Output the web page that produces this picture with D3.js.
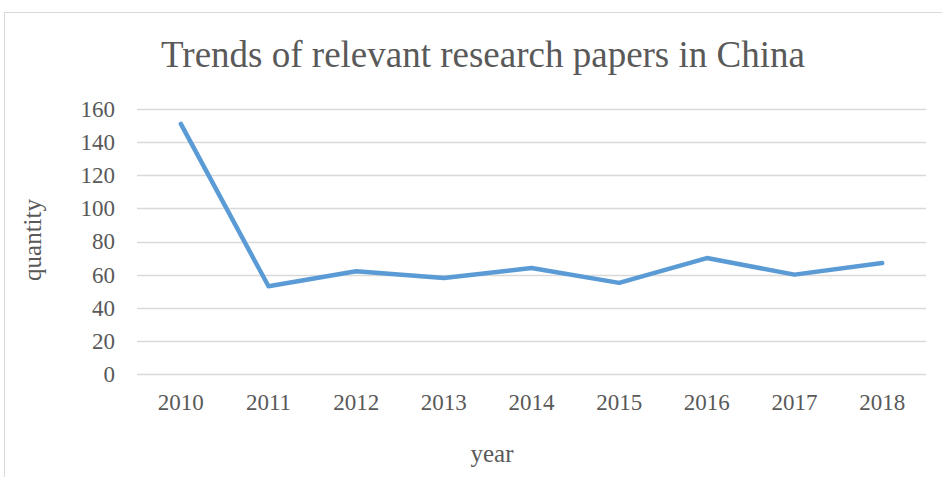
<!DOCTYPE html>
<html>
<head>
<meta charset="utf-8">
<script src="https://cdn.jsdelivr.net/npm/d3@7"></script>
<style>
  body { margin: 0; background: #fff; }
  text { font-family: "Liberation Serif", "Times New Roman", serif; fill: #595959; }
</style>
</head>
<body>
<div id="chart"></div>
<script>
'use strict';

// Data
const years = ['2010', '2011', '2012', '2013', '2014', '2015', '2016', '2017', '2018'];
const quantity = [151, 53, 62, 58, 64, 55, 70, 60, 67];
const yTicks = [0, 20, 40, 60, 80, 100, 120, 140, 160];

// Config
const svgW = 942;
const svgH = 477;
const plot = {left: 137, right: 926, top: 109, bottom: 374};

const svg = d3.select('#chart')
    .append('svg')
    .attr('width', svgW)
    .attr('height', svgH);

// Chart area border
svg.append('rect')
    .attr('x', 4.5)
    .attr('y', 12.5)
    .attr('width', 960)
    .attr('height', 500)
    .attr('fill', 'none')
    .attr('stroke', '#d9d9d9');

// Scales
const x = d3.scaleBand().domain(years).range([plot.left, plot.right]);
const y = d3.scaleLinear().domain([0, 160]).range([plot.bottom, plot.top]);

// Gridlines
svg.append('g')
    .selectAll('line')
    .data(yTicks)
    .join('line')
    .attr('x1', plot.left)
    .attr('x2', plot.right)
    .attr('y1', d => Math.round(y(d)) + 0.5)
    .attr('y2', d => Math.round(y(d)) + 0.5)
    .attr('stroke', '#d9d9d9')
    .attr('stroke-width', 1.3);

// Y axis
const yAxis = svg.append('g')
    .attr('transform', `translate(${plot.left}, 0)`)
    .call(d3.axisLeft(y).tickValues(yTicks).tickSize(0).tickPadding(22));
yAxis.attr('font-family', null);
yAxis.select('.domain').remove();
yAxis.selectAll('text')
    .attr('font-size', 23)
    .attr('fill', null);

// X axis
const xAxis = svg.append('g')
    .attr('transform', `translate(0, ${plot.bottom})`)
    .call(d3.axisBottom(x).tickSize(0).tickPadding(20));
xAxis.attr('font-family', null);
xAxis.select('.domain').remove();
xAxis.selectAll('text')
    .attr('font-size', 23)
    .attr('fill', null);

// Line
const lineMaker = d3.line()
    .x((d, i) => x(years[i]) + x.bandwidth() / 2)
    .y(d => y(d));

svg.append('path')
    .datum(quantity)
    .attr('d', lineMaker)
    .attr('fill', 'none')
    .attr('stroke', '#5b9bd5')
    .attr('stroke-width', 4.5)
    .attr('stroke-linecap', 'round')
    .attr('stroke-linejoin', 'round');

// Title
svg.append('text')
    .attr('x', 483)
    .attr('y', 67)
    .attr('text-anchor', 'middle')
    .attr('font-size', 37)
    .text('Trends of relevant research papers in China');

// Axis titles
svg.append('text')
    .attr('x', 492)
    .attr('y', 462)
    .attr('text-anchor', 'middle')
    .attr('font-size', 25)
    .text('year');

svg.append('text')
    .attr('transform', 'translate(41, 240) rotate(-90)')
    .attr('text-anchor', 'middle')
    .attr('font-size', 25)
    .text('quantity');
</script>
</body>
</html>
